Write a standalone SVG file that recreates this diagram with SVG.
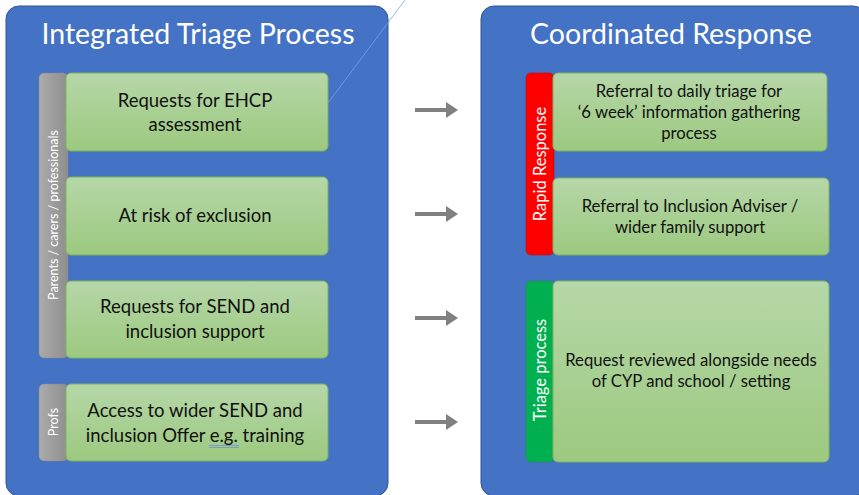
<svg xmlns="http://www.w3.org/2000/svg" width="859" height="495" viewBox="0 0 859 495">
<defs>
<linearGradient id="gGreen" x1="0" y1="0" x2="0" y2="1">
<stop offset="0" stop-color="#b6d7a8"/>
<stop offset="1" stop-color="#9cc97f"/>
</linearGradient>
<linearGradient id="gGrey" x1="0" y1="0" x2="1" y2="0">
<stop offset="0" stop-color="#ababab"/>
<stop offset="1" stop-color="#8e8e8e"/>
</linearGradient>
<marker id="ah" markerWidth="4" markerHeight="4" refX="0" refY="2" orient="auto" markerUnits="strokeWidth">
<path d="M0,0 L3,2 L0,4 Z" fill="#808080"/>
</marker>
</defs>
<style>
.panel{fill:#4472c4;stroke:#2f5597;stroke-width:1}
.box{fill:url(#gGreen);stroke:#7fb35e;stroke-width:1}
.gbar{fill:url(#gGrey);stroke:#8a8a8a;stroke-width:0.5}
.title{font-family:Lato,"Open Sans",sans-serif;font-size:28.5px;fill:#ffffff;text-anchor:middle}
.t{font-family:Lato,"Open Sans",sans-serif;font-size:18.5px;fill:#111111;text-anchor:middle}
.ts{font-family:Lato,"Open Sans",sans-serif;font-size:16.7px;fill:#111111;text-anchor:middle}
.v{font-family:Lato,"Open Sans",sans-serif;fill:#ffffff;text-anchor:middle}
.arrow{stroke:#808080;stroke-width:4;fill:none}
</style>
<rect width="859" height="495" fill="#ffffff"/>

<g id="panel-left">
<rect class="panel" x="6" y="6" width="382" height="490" rx="13"/>
<text class="title" x="198" y="44">Integrated Triage Process</text>
</g>

<g id="panel-right">
<rect class="panel" x="481" y="6" width="385" height="490" rx="13"/>
<text class="title" x="671" y="44">Coordinated Response</text>
</g>

<g id="bar-parents">
<rect class="gbar" x="39" y="73" width="29" height="285" rx="5"/>
<text class="v" font-size="12.5" transform="translate(58,215) rotate(-90)">Parents / carers / professionals</text>
</g>

<g id="bar-profs">
<rect class="gbar" x="39" y="384" width="29" height="77" rx="5"/>
<text class="v" font-size="12.5" transform="translate(58,422) rotate(-90)">Profs</text>
</g>

<g id="box-ehcp">
<rect class="box" x="66" y="73" width="262" height="78" rx="5"/>
<text class="t" x="195" y="107">Requests for EHCP</text>
<text class="t" x="195" y="131">assessment</text>
</g>

<g id="box-exclusion">
<rect class="box" x="66" y="177" width="262" height="78" rx="5"/>
<text class="t" x="195" y="222">At risk of exclusion</text>
</g>

<g id="box-send">
<rect class="box" x="66" y="281" width="262" height="77" rx="5"/>
<text class="t" x="195" y="313">Requests for SEND and</text>
<text class="t" x="195" y="338">inclusion support</text>
</g>

<g id="box-offer">
<rect class="box" x="66" y="384" width="262" height="77" rx="5"/>
<text class="t" x="195" y="417">Access to wider SEND and</text>
<text class="t" x="195" y="442">inclusion Offer e.g. training</text>
<path d="M209,445.5 H239 M209,447.5 H239" stroke="#6f8fd6" stroke-width="0.8"/>
</g>

<g id="bar-rapid">
<rect x="526" y="73" width="28" height="182" rx="5" fill="#ff0000" stroke="#c00000" stroke-width="0.5"/>
<text class="v" font-size="16.5" transform="translate(546,164) rotate(-90)">Rapid Response</text>
</g>

<g id="bar-triage">
<rect x="526" y="281" width="28" height="181" rx="5" fill="#00b050" stroke="#2e8b3e" stroke-width="0.5"/>
<text class="v" font-size="16.5" transform="translate(546,370) rotate(-90)">Triage process</text>
</g>

<g id="box-daily">
<rect class="box" x="553" y="73" width="274" height="78" rx="5"/>
<text class="ts" x="689" y="97">Referral to daily triage for</text>
<text class="ts" x="689" y="118">‘6 week’ information gathering</text>
<text class="ts" x="689" y="139">process</text>
</g>

<g id="box-adviser">
<rect class="box" x="553" y="178" width="276" height="77" rx="5"/>
<text class="ts" x="690" y="212">Referral to Inclusion Adviser /</text>
<text class="ts" x="690" y="233">wider family support</text>
</g>

<g id="box-review">
<rect class="box" x="553" y="281" width="276" height="181" rx="5"/>
<text class="ts" x="691" y="366">Request reviewed alongside needs</text>
<text class="ts" x="691" y="387">of CYP and school / setting</text>
</g>

<g id="connectors">
<line class="arrow" x1="415" y1="110" x2="446" y2="110" marker-end="url(#ah)"/>
<line class="arrow" x1="415" y1="214" x2="446" y2="214" marker-end="url(#ah)"/>
<line class="arrow" x1="415" y1="318" x2="446" y2="318" marker-end="url(#ah)"/>
<line class="arrow" x1="415" y1="422" x2="446" y2="422" marker-end="url(#ah)"/>
<line x1="328" y1="103" x2="405" y2="0" stroke="#6fa8e8" stroke-width="0.8"/>
</g>
</svg>
